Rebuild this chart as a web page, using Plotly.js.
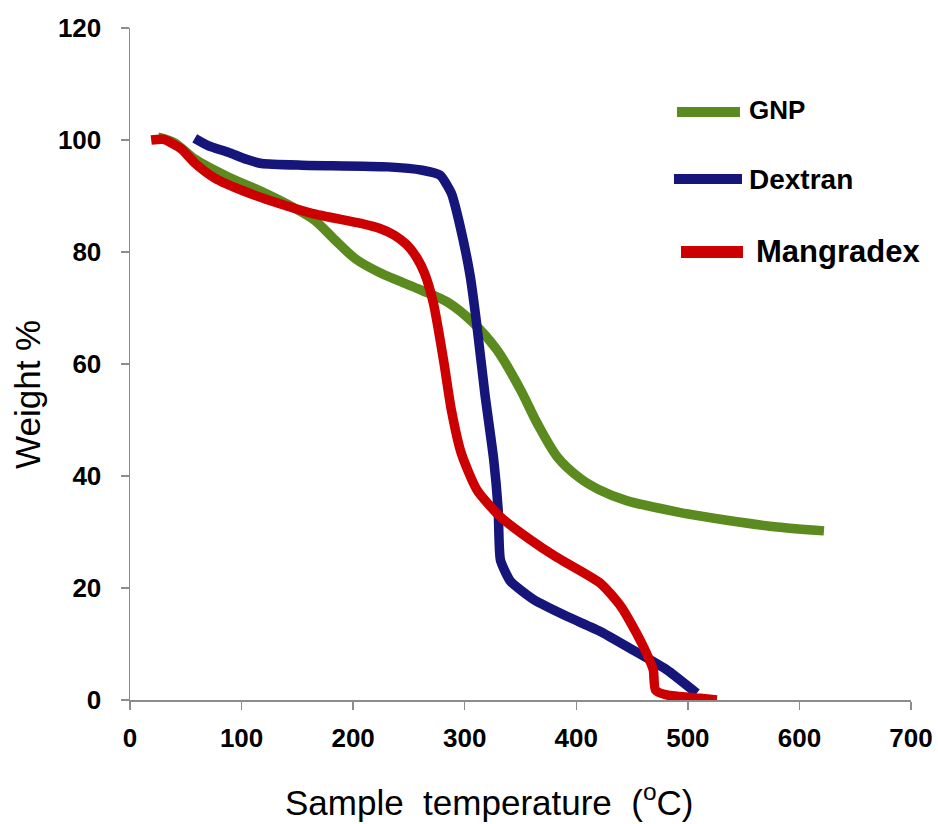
<!DOCTYPE html>
<html>
<head>
<meta charset="utf-8">
<script src="https://cdn.plot.ly/plotly-3.0.1.min.js"></script>
<style>html,body{margin:0;padding:0;background:#fff;}#chart{width:938px;height:824px;}</style>
</head>
<body>
<div id="chart"></div>
<script>
// GNP
var gnpT = [25, 40, 58, 88, 118, 148, 166, 184, 202, 225, 261, 285, 308, 329, 350, 365, 383, 404, 420, 445, 490, 535, 580, 622];
var gnpW = [100.5, 99.5, 96.6, 93.4, 90.8, 87.8, 85.6, 82.1, 78.8, 76.2, 73.2, 71.0, 67.3, 62.5, 55.4, 49.4, 43.4, 39.5, 37.6, 35.6, 33.6, 32.1, 30.9, 30.2];
// Dextran
var dexT = [58, 70, 88, 105, 118, 154, 231, 262, 278, 288, 296, 305, 311, 318, 326, 330, 332, 341, 362, 392, 422, 451, 481, 508];
var dexW = [100.3, 99.0, 97.8, 96.5, 95.8, 95.5, 95.2, 94.6, 93.7, 90.5, 84.5, 75.6, 66.7, 54.8, 42.9, 33.9, 25.0, 21.2, 17.9, 14.9, 12.2, 8.9, 5.4, 1.2];
// Mangradex
var manT = [19, 30, 46, 58, 76, 103, 133, 163, 207, 224, 237, 248, 257, 264, 272, 281, 288, 297, 311, 332, 359, 380, 392, 422, 440, 454, 463, 469, 471, 481, 511, 526];
var manW = [100.0, 100.1, 98.4, 95.9, 93.2, 90.8, 88.7, 86.9, 85.1, 84.2, 83.0, 81.3, 79.0, 76.2, 70.8, 60.7, 51.8, 44.0, 37.5, 32.7, 28.6, 25.8, 24.4, 20.8, 16.7, 11.9, 8.3, 5.4, 1.8, 0.9, 0.3, 0.0];

var seriesNames = ["GNP", "Dextran", "Mangradex"];
var xTicks = [0, 100, 200, 300, 400, 500, 600, 700];
var yTicks = [0, 20, 40, 60, 80, 100, 120];

var cGNP = "#5b8a1f", cDEX = "#16167a", cMAN = "#cc0000";

var traces = [
  {x: gnpT, y: gnpW, name: seriesNames[0], mode: "lines", line: {color: cGNP, width: 9.5, shape: "spline", smoothing: 0.8}},
  {x: dexT, y: dexW, name: seriesNames[1], mode: "lines", line: {color: cDEX, width: 9.5, shape: "spline", smoothing: 0.5}},
  {x: manT, y: manW, name: seriesNames[2], mode: "lines", line: {color: cMAN, width: 9.5, shape: "spline", smoothing: 0.6}}
];

var tickFont = {family: "Liberation Sans, Arial, sans-serif", size: 26, color: "#000", weight: "bold"};

var layout = {
  width: 938, height: 824,
  margin: {l: 130, r: 27, t: 28, b: 124},
  paper_bgcolor: "#fff", plot_bgcolor: "#fff",
  showlegend: false,
  xaxis: {
    range: [0, 700], tickvals: xTicks, ticktext: xTicks.map(String),
    showgrid: false, zeroline: false, showline: true, linecolor: "#8c8c8c", linewidth: 1.5,
    ticks: "outside", ticklen: 8, tickcolor: "#8c8c8c", tickwidth: 1.5,
    tickfont: tickFont, ticklabelstandoff: 6
  },
  yaxis: {
    range: [0, 120], tickvals: yTicks, ticktext: yTicks.map(String),
    showgrid: false, zeroline: false, showline: true, linecolor: "#8c8c8c", linewidth: 1.5,
    ticks: "outside", ticklen: 8, tickcolor: "#8c8c8c", tickwidth: 1.5,
    tickfont: tickFont, ticklabelstandoff: 14
  },
  shapes: [
    {type: "line", xref: "paper", yref: "paper", x0: 0.7004, x1: 0.781, y0: 0.875, y1: 0.875, line: {color: cGNP, width: 10}},
    {type: "line", xref: "paper", yref: "paper", x0: 0.6965, x1: 0.7836, y0: 0.7753, y1: 0.7753, line: {color: cDEX, width: 10}},
    {type: "line", xref: "paper", yref: "paper", x0: 0.7055, x1: 0.7849, y0: 0.6667, y1: 0.6667, line: {color: cMAN, width: 12}}
  ],
  annotations: [
    {text: seriesNames[0], xref: "paper", yref: "paper", x: 0.790, y: 0.878, xanchor: "left", yanchor: "middle", showarrow: false,
     font: {family: "Liberation Sans, Arial, sans-serif", size: 26, color: "#000", weight: "bold"}},
    {text: seriesNames[1], xref: "paper", yref: "paper", x: 0.790, y: 0.775, xanchor: "left", yanchor: "middle", showarrow: false,
     font: {family: "Liberation Sans, Arial, sans-serif", size: 28, color: "#000", weight: "bold"}},
    {text: seriesNames[2], xref: "paper", yref: "paper", x: 0.799, y: 0.668, xanchor: "left", yanchor: "middle", showarrow: false,
     font: {family: "Liberation Sans, Arial, sans-serif", size: 31, color: "#000", weight: "bold"}},
    {text: "Sample  temperature  (<sup>o</sup>C)", xref: "paper", yref: "paper", x: 0.46, y: -0.149, xanchor: "center", yanchor: "middle", showarrow: false,
     font: {family: "Liberation Sans, Arial, sans-serif", size: 35, color: "#000"}},
    {text: "Weight %", xref: "paper", yref: "paper", x: -0.131, y: 0.455, xanchor: "center", yanchor: "middle", textangle: -90, showarrow: false,
     font: {family: "Liberation Sans, Arial, sans-serif", size: 35, color: "#000"}}
  ]
};

Plotly.newPlot("chart", traces, layout, {displayModeBar: false, staticPlot: true});
</script>
</body>
</html>
